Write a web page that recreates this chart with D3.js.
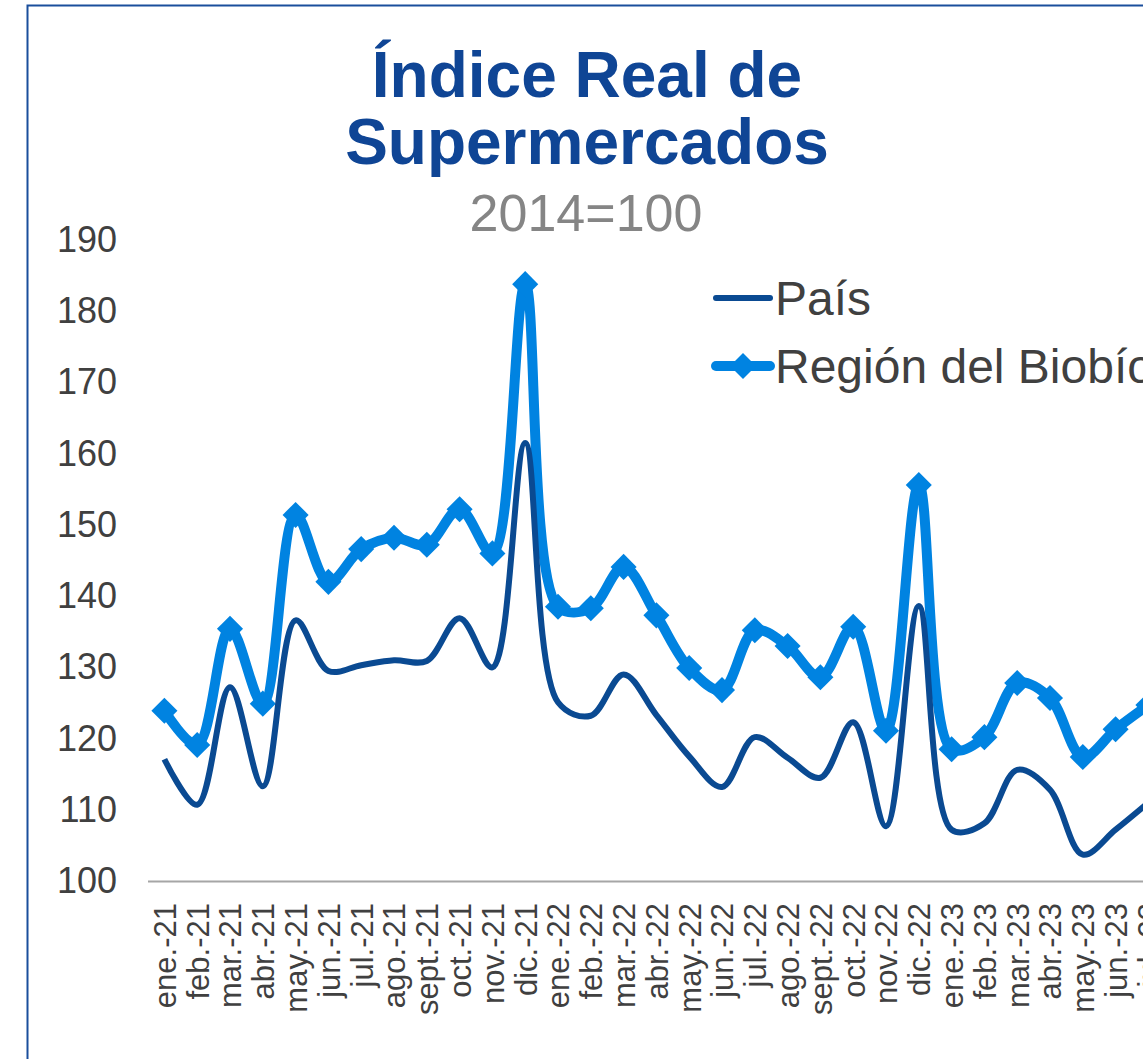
<!DOCTYPE html>
<html>
<head>
<meta charset="utf-8">
<script src="https://cdn.jsdelivr.net/npm/d3@7"></script>
<style>
    html, body { margin: 0; padding: 0; background: #fff; overflow: hidden; }
    svg { display: block; font-family: "Liberation Sans", Arial, sans-serif; }
</style>
</head>
<body>
<div id="chart"></div>
<script>
var months = ["ene.-21", "feb.-21", "mar.-21", "abr.-21", "may.-21", "jun.-21", "jul.-21", "ago.-21",
    "sept.-21", "oct.-21", "nov.-21", "dic.-21", "ene.-22", "feb.-22", "mar.-22", "abr.-22", "may.-22",
    "jun.-22", "jul.-22", "ago.-22", "sept.-22", "oct.-22", "nov.-22", "dic.-22", "ene.-23", "feb.-23",
    "mar.-23", "abr.-23", "may.-23", "jun.-23", "jul.-23"];

var pais = [117.1, 110.7, 127.2, 113.3, 136.6, 129.5, 130.3, 131.0, 130.9, 136.9, 130.0, 161.5,
    125.1, 123.2, 129.0, 123.3, 117.5, 113.2, 120.2, 117.3, 114.5, 122.3, 107.7, 138.6,
    107.2, 108.1, 115.6, 112.8, 103.7, 107.2, 111.0];

var biobio = [123.9, 119.1, 135.4, 124.9, 151.4, 142.0, 146.6, 148.2, 147.2, 152.2, 146.0, 183.8,
    138.5, 138.3, 144.1, 137.3, 129.9, 126.8, 135.2, 133.0, 128.6, 135.7, 121.1, 155.6,
    118.5, 120.2, 127.8, 125.7, 117.4, 121.3, 124.7];

var yTicks = [100, 110, 120, 130, 140, 150, 160, 170, 180, 190];

var seriesNames = ["País", "Región del Biobío"];
var darkBlue = "#0a4a92";
var lightBlue = "#0083e1";

var width = 1143, height = 1059;
var plotLeft = 148, plotTop = 240, plotBottom = 881;
var step = 32.8;

var svg = d3.select("#chart").append("svg")
    .attr("width", width)
    .attr("height", height);

// chart border (right and bottom edges fall outside the picture)
svg.append("rect")
    .attr("x", 27.5).attr("y", 5.5)
    .attr("width", 1300).attr("height", 1100)
    .attr("fill", "none")
    .attr("stroke", "#1a4e9c")
    .attr("stroke-width", 2);

var x = d3.scalePoint()
    .domain(months)
    .range([plotLeft + step / 2, plotLeft + step * months.length - step / 2]);

var y = d3.scaleLinear().domain([100, 190]).range([plotBottom, plotTop]);

// title
svg.append("text")
    .attr("x", 587).attr("y", 97)
    .attr("text-anchor", "middle")
    .attr("font-size", 64).attr("font-weight", "bold")
    .attr("fill", "#0f4595")
    .text("Índice Real de");
svg.append("text")
    .attr("x", 587).attr("y", 164)
    .attr("text-anchor", "middle")
    .attr("font-size", 64).attr("font-weight", "bold")
    .attr("fill", "#0f4595")
    .text("Supermercados");
svg.append("text")
    .attr("x", 586).attr("y", 231)
    .attr("text-anchor", "middle")
    .attr("font-size", 52)
    .attr("fill", "#858585")
    .text("2014=100");

// y axis labels only, no line
var yAxis = svg.append("g")
    .attr("transform", "translate(" + plotLeft + ",0)")
    .call(d3.axisLeft(y).tickValues(yTicks).tickSize(0).tickPadding(31));
yAxis.select(".domain").remove();
yAxis.selectAll("text")
    .attr("font-size", 36)
    .attr("font-family", "Liberation Sans, Arial, sans-serif")
    .attr("fill", "#404040");

// x axis
var xAxis = svg.append("g")
    .attr("transform", "translate(0," + plotBottom + ")")
    .call(d3.axisBottom(x).tickSize(0));
xAxis.select(".domain")
    .attr("d", "M" + plotLeft + ",0.5H" + (plotLeft + step * months.length))
    .attr("stroke", "#a6a6a6")
    .attr("stroke-width", 2);
xAxis.selectAll("text")
    .attr("font-size", 31)
    .attr("font-family", "Liberation Sans, Arial, sans-serif")
    .attr("fill", "#404040")
    .attr("text-anchor", "end")
    .attr("dy", "0.35em")
    .attr("transform", "translate(0,22) rotate(-90)")
    .attr("x", 0).attr("y", 0);

// centripetal smoothing keeps the short flat stretches close to Excel's look
var line = d3.line()
    .x(function(d, i) { return x(months[i]); })
    .y(function(d) { return y(d); })
    .curve(d3.curveCatmullRom.alpha(0.5));

svg.append("path")
    .datum(biobio)
    .attr("fill", "none")
    .attr("stroke", lightBlue)
    .attr("stroke-width", 10)
    .attr("stroke-linejoin", "round")
    .attr("d", line);

var diamond = d3.symbol().type(d3.symbolSquare).size(340);
svg.selectAll(".marker").data(biobio).enter().append("path")
    .attr("class", "marker")
    .attr("d", diamond)
    .attr("fill", lightBlue)
    .attr("transform", function(d, i) {
        return "translate(" + x(months[i]) + "," + y(d) + ") rotate(45)";
    });

svg.append("path")
    .datum(pais)
    .attr("fill", "none")
    .attr("stroke", darkBlue)
    .attr("stroke-width", 6)
    .attr("stroke-linejoin", "round")
    .attr("d", line);

// legend
var legend = svg.append("g").attr("transform", "translate(714,0)");
legend.append("line")
    .attr("x1", 2).attr("x2", 56).attr("y1", 298).attr("y2", 298)
    .attr("stroke", darkBlue).attr("stroke-width", 6).attr("stroke-linecap", "round");
legend.append("text")
    .attr("x", 61).attr("y", 298).attr("dy", "0.35em")
    .attr("font-size", 48).attr("fill", "#404040")
    .text(seriesNames[0]);
legend.append("line")
    .attr("x1", 2).attr("x2", 56).attr("y1", 366).attr("y2", 366)
    .attr("stroke", lightBlue).attr("stroke-width", 10).attr("stroke-linecap", "round");
legend.append("path")
    .attr("d", diamond)
    .attr("fill", lightBlue)
    .attr("transform", "translate(29,366) rotate(45)");
legend.append("text")
    .attr("x", 61).attr("y", 366).attr("dy", "0.35em")
    .attr("font-size", 48).attr("fill", "#404040")
    .text(seriesNames[1]);
</script>
</body>
</html>
